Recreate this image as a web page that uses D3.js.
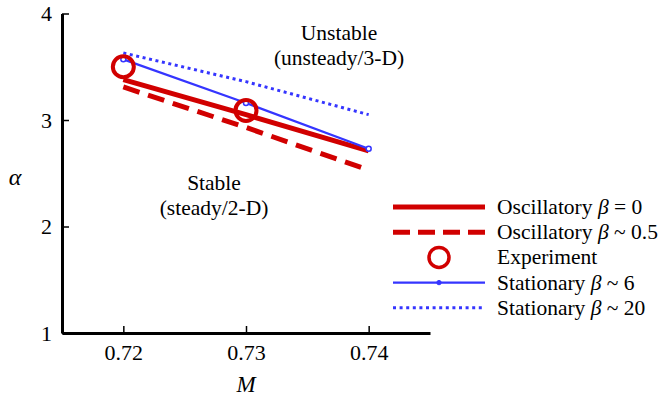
<!DOCTYPE html>
<html>
<head>
<meta charset="utf-8">
<script src="https://cdn.jsdelivr.net/npm/d3@7"></script>
<style>
  html, body { margin: 0; padding: 0; background: #fff; }
  svg { display: block; font-family: "Liberation Serif", "Times New Roman", serif; }
</style>
</head>
<body>
<svg id="chart" width="659" height="398"></svg>
<script>
// Mach numbers at which the stability boundaries were computed
const machs = [0.72, 0.73, 0.74];
// Critical angle of attack for each model
const oscBeta0 = [3.38, 3.05, 2.71];
const oscBeta05 = [3.31, 2.93, 2.53];
const statBeta6 = [3.57, 3.16, 2.73];
const statBeta20 = [3.63, 3.36, 3.05];
// Measured onset points
const expMachs = [0.72, 0.73];
const expAlpha = [3.50, 3.09];
// Axis ticks
const xMajor = [0.72, 0.73, 0.74];
const xMinor = [0.716, 0.718, 0.722, 0.724, 0.726, 0.728, 0.732, 0.734, 0.736, 0.738, 0.742, 0.744];
const yMajor = [1, 2, 3, 4];
const yMinor = [1.2, 1.4, 1.6, 1.8, 2.2, 2.4, 2.6, 2.8, 3.2, 3.4, 3.6, 3.8];
const legendLabels = ["Oscillatory", "Oscillatory", "Experiment", "Stationary", "Stationary"];
const legendBetas = ["= 0", "~ 0.5", "", "~ 6", "~ 20"];

const RED = "#d10000", BLUE = "#3535ff";
const FS = 21.5;
const svg = d3.select("#chart");
const x = d3.scaleLinear().domain([0.715, 0.745]).range([62, 430]);
const y = d3.scaleLinear().domain([1, 4]).range([333, 13.5]);

// axes with inward-pointing ticks
const gx = svg.append("g").attr("transform", `translate(0,${y(1)})`);
gx.call(d3.axisBottom(x).tickValues(xMinor).tickSize(-4).tickFormat(""));
gx.call(d3.axisBottom(x).tickValues(xMajor).tickSize(-7).tickSizeOuter(0).tickPadding(11).tickFormat(d3.format(".2f")));
const gy = svg.append("g").attr("transform", `translate(${x(0.715)},0)`);
gy.call(d3.axisLeft(y).tickValues(yMinor).tickSize(-4).tickFormat(""));
gy.call(d3.axisLeft(y).tickValues(yMajor).tickSize(-7).tickSizeOuter(0).tickPadding(10).tickFormat(d3.format("d")));
svg.selectAll(".domain").attr("stroke", "#000").attr("stroke-width", 3);
svg.selectAll(".tick line").attr("stroke", "#000").attr("stroke-width", 1.5);
svg.selectAll(".tick text").attr("fill", "#000").attr("font-size", 22)
  .attr("font-family", "Liberation Serif, serif");

svg.append("text").attr("x", 246).attr("y", 392).attr("text-anchor", "middle")
  .attr("font-size", 23).attr("font-style", "italic").text("M");
svg.append("text").attr("x", 15).attr("y", 185).attr("text-anchor", "middle")
  .attr("font-size", 24).attr("font-style", "italic").text("α");

// region annotations
const notes = [
  { t: "Unstable", cx: 339, by: 40 },
  { t: "(unsteady/3-D)", cx: 339, by: 65 },
  { t: "Stable", cx: 214, by: 190 },
  { t: "(steady/2-D)", cx: 214, by: 215 }
];
svg.selectAll(".note").data(notes).join("text").attr("class", "note")
  .attr("x", d => d.cx).attr("y", d => d.by).attr("text-anchor", "middle")
  .attr("font-size", FS).text(d => d.t);

const line = d3.line().x(d => x(d[0])).y(d => y(d[1]));
const series = [
  { vals: oscBeta05, stroke: RED, w: 5, dash: "17,9" },
  { vals: oscBeta0, stroke: RED, w: 5, dash: null },
  { vals: statBeta20, stroke: BLUE, w: 3, dash: "3,3.6" },
  { vals: statBeta6, stroke: BLUE, w: 2.3, dash: null }
];
series.forEach(s => {
  svg.append("path").datum(machs.map((m, i) => [m, s.vals[i]]))
    .attr("d", line).attr("fill", "none").attr("stroke", s.stroke)
    .attr("stroke-width", s.w).attr("stroke-dasharray", s.dash);
});
svg.selectAll(".smark").data(machs.map((m, i) => [m, statBeta6[i]])).join("circle")
  .attr("class", "smark").attr("cx", d => x(d[0])).attr("cy", d => y(d[1])).attr("r", 2.5)
  .attr("fill", "#fff").attr("stroke", BLUE).attr("stroke-width", 1.5);
svg.selectAll(".exp").data(expMachs.map((m, i) => [m, expAlpha[i]])).join("circle")
  .attr("class", "exp").attr("cx", d => x(d[0])).attr("cy", d => y(d[1])).attr("r", 10.5)
  .attr("fill", "none").attr("stroke", RED).attr("stroke-width", 4);

// legend
const lg = svg.append("g");
const rowY = i => 207 + i * 25.2;
const x0 = 393, x1 = 485;
const legStyles = [
  { stroke: RED, w: 5, dash: null },
  { stroke: RED, w: 5, dash: "17,8" },
  null,
  { stroke: BLUE, w: 2.3, dash: null },
  { stroke: BLUE, w: 3, dash: "3,3.6" }
];
legStyles.forEach((s, i) => {
  if (s) {
    lg.append("line").attr("x1", x0).attr("x2", x1).attr("y1", rowY(i)).attr("y2", rowY(i))
      .attr("stroke", s.stroke).attr("stroke-width", s.w).attr("stroke-dasharray", s.dash);
  } else {
    lg.append("circle").attr("cx", (x0 + x1) / 2).attr("cy", rowY(i)).attr("r", 10)
      .attr("fill", "none").attr("stroke", RED).attr("stroke-width", 3.5);
  }
});
lg.append("circle").attr("cx", (x0 + x1) / 2).attr("cy", rowY(3)).attr("r", 2.2)
  .attr("fill", BLUE).attr("stroke", BLUE);
legendLabels.forEach((lab, i) => {
  const t = lg.append("text").attr("x", 497).attr("y", rowY(i) + 7).attr("font-size", FS);
  t.append("tspan").text(lab);
  if (legendBetas[i]) {
    t.append("tspan").text(" ");
    t.append("tspan").attr("font-style", "italic").text("β");
    t.append("tspan").text(" " + legendBetas[i]);
  }
});
</script>
</body>
</html>
